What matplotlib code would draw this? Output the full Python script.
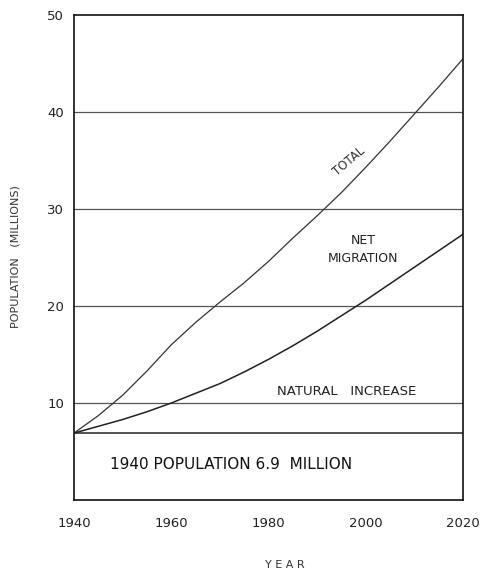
import numpy as np
import matplotlib.pyplot as plt

# population projections (millions)
years = [1940, 1945, 1950, 1955, 1960, 1965, 1970, 1975, 1980, 1985, 1990,
         1995, 2000, 2005, 2010, 2015, 2020]
total = [6.9, 8.7, 10.8, 13.3, 16.0, 18.3, 20.4, 22.4, 24.6, 27.0, 29.3,
         31.7, 34.3, 37.0, 39.8, 42.6, 45.5]
natural = [6.9, 7.6, 8.3, 9.1, 10.0, 11.0, 12.0, 13.2, 14.5, 15.9, 17.4,
           19.0, 20.6, 22.3, 24.0, 25.7, 27.4]
base_pop = 6.9
x_ticks = [1940, 1960, 1980, 2000, 2020]
y_ticks = [10, 20, 30, 40, 50]

plt.rcParams['font.family'] = ['DejaVu Sans']
fig = plt.figure(figsize=(4.82, 5.71), dpi=100)
ax = fig.add_axes([0.1535, 0.1243, 0.8071, 0.8494])

for yv in y_ticks[:-1]:
    ax.axhline(yv, color='#555555', lw=0.9)
ax.axhline(base_pop, color='#222222', lw=1.1)

ax.plot(years, total, color='#333333', lw=0.9)
ax.plot(years, natural, color='#222222', lw=1.1)

ax.set_xlim(1940, 2020)
ax.set_ylim(0, 50)
ax.set_xticks(x_ticks)
ax.set_yticks(y_ticks)
ax.tick_params(length=0, pad=12, labelsize=9.5, colors='#222222')
ax.tick_params(axis='y', pad=7)
for s in ax.spines.values():
    s.set_linewidth(1.2)
    s.set_color('#111111')

fig.text(285 / 482, 1 - 565 / 571, 'Y E A R', fontsize=8, ha='center', va='center', color='#333333')
fig.text(16 / 482, 1 - 257 / 571, 'POPULATION   (MILLIONS)', fontsize=8, rotation=90,
         ha='center', va='center', color='#333333')

ax.text(1996.5, 34.9, 'TOTAL', rotation=40, fontsize=8.5, ha='center', va='center', color='#333333')
ax.text(1999.5, 25.8, 'NET\nMIGRATION', fontsize=9, ha='center', va='center',
        linespacing=1.5, color='#222222')
ax.text(1996, 11.2, 'NATURAL   INCREASE', fontsize=9.5, ha='center', va='center', color='#222222')
ax.text(1947.5, 3.7, '1940 POPULATION 6.9  MILLION', fontsize=11, ha='left', va='center',
        color='#111111')

fig.savefig('out.png', dpi=100)
